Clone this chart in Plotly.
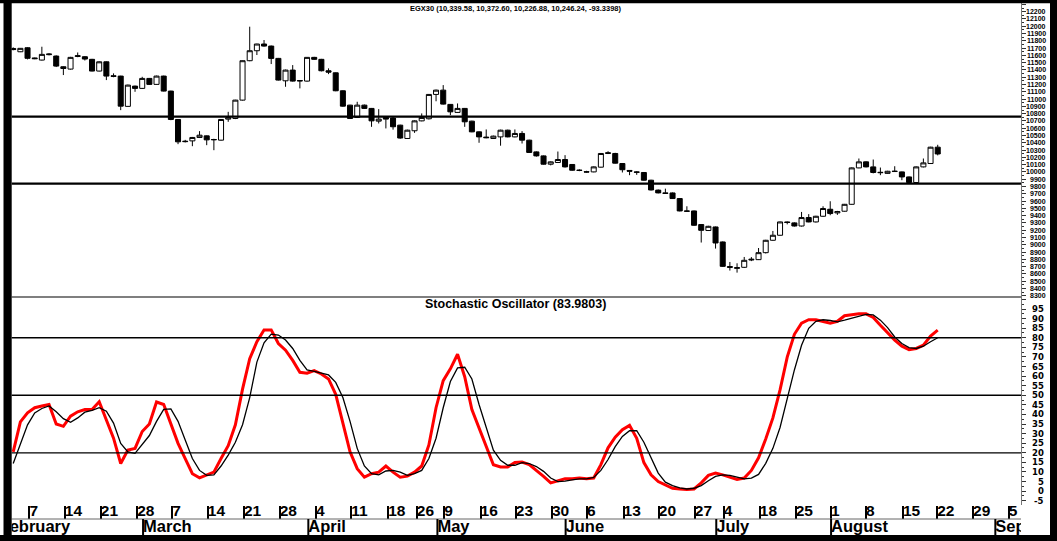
import plotly.graph_objects as go

W, H = 1057, 541
FONT = "Liberation Sans"

# ---------------- data ----------------
opens = [11695, 11650, 11705, 11565, 11536, 11610, 11591, 11444, 11412, 11585,
         11582, 11546, 11385, 11512, 11320, 11316, 10900, 11178, 11147, 11284,
         11202, 11316, 11110, 10720, 10415, 10426, 10473, 10495, 10440, 10436,
         10725, 10734, 10986, 11527, 11664, 11756, 11728, 11559, 11251, 11398,
         11255, 11247, 11573, 11546, 11389, 11361, 11114, 10917, 10748, 10917,
         10872, 10697, 10748, 10740, 10642, 10459, 10565, 10701, 10730, 11064,
         11123, 10927, 10817, 10872, 10697, 10550, 10478, 10459, 10481, 10573,
         10481, 10528, 10436, 10275, 10220, 10106, 10129, 10170, 10102, 10025,
         10003, 10000, 10065, 10253, 10253, 10115, 10020, 10000, 9992, 9886,
         9750, 9712, 9711, 9634, 9464, 9464, 9277, 9195, 9244, 9038,
         8700, 8675, 8690, 8790, 8795, 8891, 9061, 9130, 9313, 9300,
         9257, 9373, 9313, 9391, 9487, 9437, 9460, 9555, 10055, 10138,
         10069, 9995, 9980, 10005, 10000, 9931, 9854, 10069, 10115, 10339.58]
highs = [11710, 11700, 11712, 11570, 11719, 11630, 11600, 11450, 11580, 11640,
         11590, 11552, 11518, 11518, 11353, 11320, 11198, 11185, 11306, 11290,
         11322, 11322, 11115, 10725, 10440, 10480, 10560, 10500, 10455, 10725,
         10825, 10990, 11530, 11994, 11760, 11811, 11735, 11565, 11405, 11467,
         11262, 11578, 11580, 11552, 11422, 11366, 11120, 10922, 10963, 10925,
         10878, 10862, 10755, 10755, 10648, 10580, 10708, 10803, 11070, 11130,
         11192, 10932, 10940, 10878, 10703, 10556, 10583, 10498, 10580, 10580,
         10583, 10560, 10442, 10282, 10226, 10145, 10280, 10230, 10108, 10035,
         10015, 10075, 10260, 10284, 10262, 10120, 10025, 10010, 9998, 9892,
         9758, 9770, 9718, 9640, 9528, 9470, 9283, 9260, 9250, 9045,
         8763, 8745, 8832, 8830, 8955, 9067, 9189, 9318, 9320, 9308,
         9450, 9420, 9397, 9528, 9597, 9465, 9560, 10062, 10184, 10145,
         10170, 10060, 10015, 10078, 10005, 9937, 10075, 10184, 10345, 10372.60]
lows = [11670, 11645, 11545, 11548, 11530, 11600, 11440, 11330, 11405, 11575,
        11530, 11380, 11380, 11261, 11300, 10848, 10895, 11100, 11140, 11195,
        11198, 11105, 10710, 10381, 10405, 10353, 10465, 10367, 10298, 10430,
        10688, 10725, 10980, 11520, 11605, 11720, 11481, 11255, 11169, 11240,
        11147, 11240, 11540, 11380, 11343, 11108, 10895, 10728, 10740, 10865,
        10619, 10665, 10597, 10580, 10455, 10452, 10536, 10695, 10720, 10970,
        10925, 10780, 10810, 10619, 10545, 10400, 10462, 10452, 10360, 10475,
        10475, 10390, 10260, 10210, 10100, 10090, 10125, 10060, 10015, 10010,
        9990, 9995, 10060, 10245, 10115, 9992, 9955, 9960, 9880, 9745,
        9705, 9698, 9628, 9458, 9452, 9260, 9030, 9188, 8947, 8695,
        8645, 8617, 8680, 8775, 8790, 8880, 9055, 9125, 9280, 9250,
        9250, 9308, 9305, 9385, 9405, 9410, 9455, 9550, 10050, 10062,
        9980, 9955, 9975, 10000, 9886, 9848, 9848, 10062, 10110, 10226.88]
closes = [11680, 11697, 11560, 11555, 11614, 11618, 11453, 11420, 11573, 11595,
          11550, 11385, 11512, 11316, 11312, 10903, 11192, 11147, 11284, 11202,
          11316, 11110, 10720, 10413, 10420, 10473, 10504, 10440, 10445, 10720,
          10745, 10986, 11527, 11664, 11756, 11728, 11559, 11261, 11398, 11247,
          11250, 11573, 11546, 11389, 11370, 11114, 10903, 10734, 10917, 10872,
          10701, 10725, 10725, 10620, 10465, 10573, 10701, 10748, 11064, 11123,
          10931, 10825, 10872, 10688, 10550, 10481, 10470, 10491, 10573, 10481,
          10528, 10436, 10267, 10220, 10106, 10138, 10170, 10069, 10023, 10020,
          9998, 10069, 10253, 10262, 10120, 10030, 10010, 9995, 9886, 9752,
          9712, 9705, 9634, 9464, 9460, 9267, 9198, 9253, 9024, 8703,
          8690, 8685, 8786, 8800, 8891, 9061, 9130, 9313, 9305, 9257,
          9373, 9313, 9391, 9497, 9428, 9455, 9555, 10055, 10138, 10069,
          9992, 9990, 10009, 10009, 9931, 9854, 10069, 10124, 10339.58, 10246.24]

stoch_k = [20.5, 36.1, 40.8, 43.5, 44.4, 45.2, 35.0, 33.8, 39.1, 41.4,
           42.6, 42.6, 46.6, 37.6, 27.6, 14.4, 21.4, 22.3, 31.1, 35.0,
           46.5, 45.2, 35.5, 24.9, 17.0, 9.1, 6.9, 8.2, 9.9, 17.0,
           23.7, 34.6, 53.2, 69.1, 77.9, 84.1, 84.1, 77.0, 73.5, 68.2,
           62.0, 61.5, 62.9, 61.1, 58.5, 50.5, 35.5, 20.5, 11.7, 7.3,
           9.1, 9.9, 13.1, 9.9, 7.3, 7.8, 9.9, 13.1, 24.1, 43.5,
           57.6, 63.8, 71.4, 59.7, 42.6, 32.9, 24.1, 13.8, 12.6, 12.6,
           14.9, 15.2, 13.8, 10.8, 7.7, 4.3, 5.4, 6.4, 6.4, 6.8,
           6.4, 6.8, 13.8, 22.6, 28.1, 32.0, 34.3, 27.6, 14.9, 8.5,
           5.0, 3.2, 1.5, 1.1, 0.8, 1.1, 4.3, 8.2, 9.4, 8.5,
           7.3, 6.1, 6.8, 10.8, 17.4, 27.2, 38.2, 52.8, 69.9, 81.8,
           87.6, 89.4, 89.4, 88.5, 87.6, 88.6, 91.5, 92.0, 92.5, 92.5,
           90.6, 86.5, 82.5, 78.8, 75.6, 73.8, 74.4, 76.1, 80.9, 83.98]
stoch_d = [14.4, 24.1, 34.6, 40.8, 43.1, 44.4, 41.4, 37.8, 35.9, 38.2,
           41.2, 42.1, 43.5, 41.7, 35.5, 24.9, 20.5, 19.7, 24.4, 29.0,
           36.4, 42.6, 42.9, 36.4, 26.7, 17.0, 10.8, 8.2, 8.5, 13.1,
           18.8, 25.5, 34.6, 48.8, 67.3, 77.4, 81.9, 81.4, 78.8, 74.4,
           68.2, 63.2, 62.5, 61.5, 60.6, 56.7, 48.8, 36.4, 22.3, 13.1,
           9.1, 8.5, 10.5, 10.8, 9.9, 8.2, 9.1, 10.8, 17.0, 27.6,
           43.5, 57.2, 64.3, 64.6, 58.5, 45.2, 32.9, 21.4, 16.1, 13.5,
           13.5, 14.9, 14.4, 12.8, 10.3, 6.8, 5.0, 5.2, 5.9, 6.4,
           6.4, 7.1, 10.8, 16.5, 23.2, 28.5, 31.5, 31.5, 25.5, 17.5,
           9.4, 4.7, 2.9, 1.7, 1.1, 1.5, 2.9, 5.4, 7.7, 8.5,
           8.2, 7.3, 6.4, 6.8, 8.7, 14.5, 22.3, 33.2, 47.7, 63.2,
           76.1, 84.9, 88.6, 89.4, 89.0, 88.3, 89.2, 90.2, 91.5, 92.2,
           91.9, 89.2, 85.3, 80.4, 77.0, 74.9, 74.4, 75.6, 77.9, 80.0]

price_levels = [10760, 9840]
stoch_levels = [80, 50, 20]

price_ticks = list(range(8300, 12201, 100))
stoch_ticks = list(range(-5, 96, 5))

day_labels = ["7", "14", "21", "28", "7", "14", "21", "28", "4", "11", "18", "26",
              "9", "16", "23", "30", "6", "13", "20", "27", "4", "18", "25",
              "1", "8", "15", "22", "29", "5"]
day_pos = [2.27, 7.21, 12.22, 17.31, 22.21, 27.15, 32.2, 37.19, 42.24, 47.18,
           52.33, 56.32, 60.16, 65.21, 70.14, 75.17, 80.05, 85.16, 90.08, 95.1,
           99.16, 104.17, 109.19, 114.12, 118.99, 124.15, 128.92, 133.94, 138.91]
month_labels = ["February", "March", "April", "May", "June", "July", "August", "September"]
month_pos = [-1.9, 18.12, 41.18, 59.19, 77.08, 98.1, 114.12, 137.04]

title_text = "EGX30 (10,339.58, 10,372.60, 10,226.88, 10,246.24, -93.3398)"
stoch_title = "Stochastic Oscillator (83.9803)"


# ---------------- helpers (pixel -> paper) ----------------
def py(px):
    return (H - px) / H


def pxx(px):
    return px / W


X_LEFT, X_RIGHT = 11.7, 1021.0
xdom = [pxx(X_LEFT), pxx(X_RIGHT)]
xr = [-0.21, 140.62]

bar_idx = list(range(len(closes)))

fig = go.Figure()
fig.add_trace(go.Candlestick(
    x=bar_idx, open=opens, high=highs, low=lows, close=closes,
    increasing=dict(line=dict(color="black", width=1), fillcolor="white"),
    decreasing=dict(line=dict(color="black", width=1), fillcolor="black"),
    whiskerwidth=0, xaxis="x", yaxis="y", showlegend=False, hoverinfo="skip"))

fig.add_trace(go.Scatter(x=bar_idx, y=stoch_k, mode="lines",
                         line=dict(color="#ff0000", width=3),
                         xaxis="x2", yaxis="y2", showlegend=False, hoverinfo="skip"))
fig.add_trace(go.Scatter(x=bar_idx, y=stoch_d, mode="lines",
                         line=dict(color="black", width=1.3),
                         xaxis="x2", yaxis="y2", showlegend=False, hoverinfo="skip"))

# date band
fig.add_trace(go.Scatter(x=day_pos, y=[0.767] * len(day_pos), mode="text",
                         text=["<b>%s</b>" % d for d in day_labels],
                         textposition="middle right",
                         textfont=dict(family=FONT, size=15.5, color="black"),
                         xaxis="x3", yaxis="y3", cliponaxis=True,
                         showlegend=False, hoverinfo="skip"))
fig.add_trace(go.Scatter(x=month_pos, y=[0.24] * len(month_pos), mode="text",
                         text=["<b>%s</b>" % m for m in month_labels],
                         textposition="middle right",
                         textfont=dict(family=FONT, size=16.5, color="black"),
                         xaxis="x3", yaxis="y3", cliponaxis=True,
                         showlegend=False, hoverinfo="skip"))

shapes = []
for lv in price_levels:
    shapes.append(dict(type="line", xref="x domain", yref="y", x0=0, x1=1, y0=lv, y1=lv,
                       line=dict(color="black", width=2.3)))
for lv in stoch_levels:
    shapes.append(dict(type="line", xref="x2 domain", yref="y2", x0=0, x1=1, y0=lv, y1=lv,
                       line=dict(color="black", width=1.3)))
# panel separator
shapes.append(dict(type="line", xref="paper", yref="paper", x0=xdom[0], x1=xdom[1],
                   y0=py(297), y1=py(297), line=dict(color="#555555", width=1.5)))
# date band row separator
shapes.append(dict(type="line", xref="x3 domain", yref="y3", x0=0, x1=1, y0=0.533, y1=0.533,
                   line=dict(color="#666666", width=1)))
for mp in month_pos:
    shapes.append(dict(type="line", xref="x3", yref="y3", x0=mp, x1=mp, y0=0, y1=0.533,
                       line=dict(color="black", width=2)))
# black frame
frame = [(3.5, 0, X_LEFT, H), (0, 0, W, 3.3), (1050, 0, W, H), (0, 535, W, H)]
for x0, y0, x1, y1 in frame:
    shapes.append(dict(type="rect", xref="paper", yref="paper", layer="above",
                       x0=pxx(x0), x1=pxx(x1), y0=py(y1), y1=py(y0),
                       fillcolor="black", line=dict(width=0)))

annotations = []
for t in price_ticks:
    annotations.append(dict(xref="paper", yref="y", x=pxx(1047.5), y=t, xanchor="right",
                            yanchor="middle", showarrow=False,
                            text="<b>%d</b>" % t,
                            font=dict(family=FONT, size=7, color="black")))
for t in stoch_ticks:
    annotations.append(dict(xref="paper", yref="y2", x=pxx(1046), y=t, xanchor="right",
                            yanchor="middle", showarrow=False,
                            text="<b>%d</b>" % t,
                            font=dict(family="DejaVu Sans", size=8.5, color="black")))
annotations.append(dict(xref="paper", yref="paper", x=pxx(516), y=py(9), showarrow=False,
                        xanchor="center", yanchor="middle", text="<b>%s</b>" % title_text,
                        font=dict(family=FONT, size=7.5, color="black")))
annotations.append(dict(xref="paper", yref="paper", x=pxx(515), y=py(304), showarrow=False,
                        xanchor="center", yanchor="middle", text="<b>%s</b>" % stoch_title,
                        font=dict(family=FONT, size=12.5, color="black")))

axis_common = dict(showgrid=False, zeroline=False)
fig.update_layout(
    width=W, height=H, margin=dict(l=0, r=0, t=0, b=0),
    paper_bgcolor="white", plot_bgcolor="white", showlegend=False,
    boxgap=0.3, boxgroupgap=0,
    xaxis=dict(domain=xdom, range=xr, anchor="y", showticklabels=False, ticks="",
               rangeslider=dict(visible=False), **axis_common),
    yaxis=dict(domain=[py(297), py(3.3)], range=[8282.1, 12315.4], anchor="x", side="right",
               showticklabels=False, ticks="outside", tickmode="linear", tick0=8300, dtick=100,
               ticklen=4, tickcolor="#333333", tickwidth=1,
               minor=dict(ticks="outside", dtick=50, ticklen=2, tickcolor="#333333"),
               showline=True, linecolor="#777777", linewidth=1, **axis_common),
    xaxis2=dict(domain=xdom, range=xr, anchor="y2", showticklabels=False,
                tickmode="array", tickvals=day_pos, ticks="outside", ticklen=13, tickwidth=2,
                tickcolor="black", showline=False, **axis_common),
    yaxis2=dict(domain=[py(505), py(297)], range=[-7.24, 101.26], anchor="x2", side="right",
                showticklabels=False, ticks="outside", tickmode="linear", tick0=-5, dtick=5,
                ticklen=4, tickcolor="#333333", tickwidth=1,
                minor=dict(ticks="outside", dtick=2.5, ticklen=2, tickcolor="#333333"),
                showline=True, linecolor="#777777", linewidth=1, **axis_common),
    xaxis3=dict(domain=xdom, range=xr, anchor="y3", visible=False),
    yaxis3=dict(domain=[py(535), py(505)], range=[0, 1], anchor="x3", visible=False),
    shapes=shapes, annotations=annotations,
)

fig.write_html("out.html",
               config={"displayModeBar": False, "staticPlot": True},
               post_script="document.body.style.margin='0';document.body.style.padding='0';"
                           "document.documentElement.style.overflow='hidden';")
